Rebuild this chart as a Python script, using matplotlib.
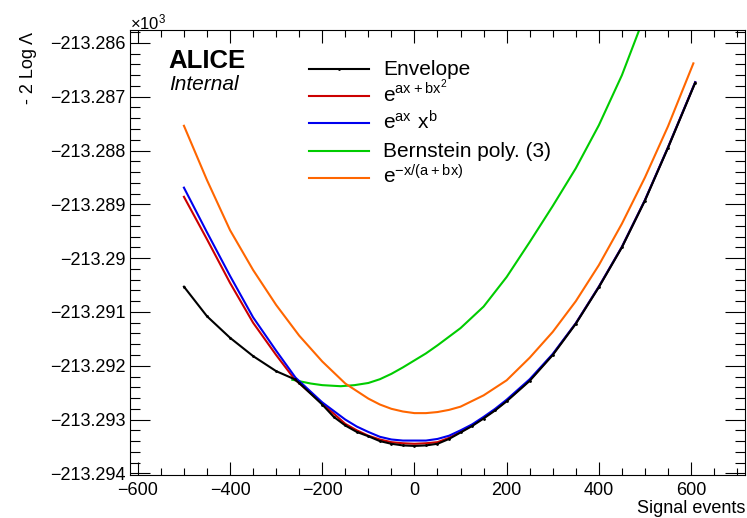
import numpy as np
import matplotlib.pyplot as plt
from matplotlib.ticker import MultipleLocator, FuncFormatter

plt.rcParams['font.family'] = ['Liberation Sans', 'DejaVu Sans']
plt.rcParams['mathtext.fontset'] = 'custom'
plt.rcParams['mathtext.rm'] = 'Liberation Sans'
plt.rcParams['mathtext.default'] = 'regular'

# -2 log Lambda, in units of 10^3
env_x = [-500, -450, -400, -350, -300, -260, -250, -200, -175, -150, -125, -100,
         -75, -50, -25, 0, 25, 50, 75, 100, 125, 150, 175, 200, 250, 300, 350,
         400, 450, 500, 550, 609]
env_y = [-213.29053, -213.29108, -213.29148, -213.29182, -213.29210, -213.29225,
         -213.29232, -213.29272, -213.29295, -213.29311, -213.29323, -213.29331,
         -213.29340, -213.29345, -213.29348, -213.29349, -213.29348, -213.29345,
         -213.29336, -213.29324, -213.29312, -213.29298, -213.29283, -213.29266,
         -213.29228, -213.29180, -213.29122, -213.29054, -213.28980, -213.28893,
         -213.28795, -213.28674]

red_x = [-500, -450, -400, -350, -300, -260, -200, -150, -125, -100, -75, -50,
         -25, 0, 25, 50, 75, 100, 125, 150, 175, 200, 250, 300, 350, 400, 450,
         500, 550, 609]
red_y = [-213.28886, -213.28965, -213.29046, -213.29120, -213.29180, -213.29225,
         -213.29270, -213.29308, -213.29320, -213.29330, -213.29337, -213.29342,
         -213.29344, -213.29345, -213.29344, -213.29342, -213.29334, -213.29323,
         -213.29311, -213.29297, -213.29282, -213.29265, -213.29227, -213.29179,
         -213.29121, -213.29053, -213.28979, -213.28892, -213.28794, -213.28673]

blue_x = [-500, -450, -400, -350, -300, -258, -200, -150, -125, -100, -75, -50,
          -25, 0, 25, 50, 75, 100, 125, 150, 175, 200, 250, 300, 350, 400, 450,
          500, 550, 609]
blue_y = [-213.28869, -213.28952, -213.29033, -213.29110, -213.29172, -213.29222,
          -213.29268, -213.29300, -213.29313, -213.29323, -213.29332, -213.29337,
          -213.29339, -213.29339, -213.29339, -213.29336, -213.29330, -213.29320,
          -213.29309, -213.29295, -213.29280, -213.29263, -213.29225, -213.29178,
          -213.29121, -213.29053, -213.28979, -213.28892, -213.28794, -213.28673]

green_x = [-265, -225, -200, -160, -130, -100, -75, -50, -25, 0, 25, 50, 100,
           150, 200, 250, 300, 350, 400, 450, 500]
green_y = [-213.29226, -213.29233, -213.29236, -213.29238, -213.29236, -213.29232,
           -213.29225, -213.29215, -213.29203, -213.29190, -213.29177, -213.29162,
           -213.29130, -213.29090, -213.29035, -213.28970, -213.28903, -213.28833,
           -213.28753, -213.28660, -213.28548]

orange_x = [-500, -450, -400, -350, -300, -250, -200, -150, -100, -75, -50, -25,
            0, 25, 50, 75, 100, 150, 200, 250, 300, 350, 400, 450, 500, 550, 605]
orange_y = [-213.28754, -213.28855, -213.28948, -213.29022, -213.29087, -213.29144,
            -213.29192, -213.29233, -213.29261, -213.29272, -213.29280, -213.29285,
            -213.29288, -213.29288, -213.29286, -213.29282, -213.29276, -213.29255,
            -213.29227, -213.29185, -213.29137, -213.29080, -213.29013, -213.28936,
            -213.28850, -213.28755, -213.28638]

labels = ['Envelope', r'$e^{ax+bx^{2}}$', r'$e^{ax}\ x^{b}$',
          'Bernstein poly. (3)', r'$e^{-x/(a+bx)}$']
colors = ['black', '#cc0000', '#0000ee', '#00cc00', '#ff6600']

W, H = 747, 518
fig = plt.figure(figsize=(W / 100, H / 100), dpi=100)
ax = fig.add_axes([130 / W, 1 - 475 / H, 615 / W, 445 / H])

lw = 1.5
ax.plot(green_x, green_y, color=colors[3], lw=lw)
ax.plot(orange_x, orange_y, color=colors[4], lw=lw)
ax.plot(red_x, red_y, color=colors[1], lw=lw)
ax.plot(blue_x, blue_y, color=colors[2], lw=lw)
ax.plot(env_x, env_y, color=colors[0], lw=lw, marker='.', ms=2)

ax.set_xlim(-617, 717)
ax.set_ylim(-213.29403, -213.28576)

ax.xaxis.set_major_locator(MultipleLocator(200))
ax.xaxis.set_minor_locator(MultipleLocator(50))
ax.yaxis.set_major_locator(MultipleLocator(0.001))
ax.yaxis.set_minor_locator(MultipleLocator(0.0002))
ax.yaxis.set_major_formatter(FuncFormatter(
    lambda v, p: ('%.3f' % v).rstrip('0').replace('-', '\u2212')))
ax.xaxis.set_major_formatter(FuncFormatter(
    lambda v, p: ('%d' % round(v)).replace('-', '\u2212')))

ax.tick_params(axis='both', which='both', direction='in', top=True, right=True,
               labelsize=13, width=0.8)
ax.tick_params(axis='x', which='major', length=9.4, pad=5)
ax.tick_params(axis='x', which='minor', length=5)
ax.tick_params(axis='y', which='major', length=14.4, pad=3)
ax.tick_params(axis='y', which='minor', length=7.2)
for s in ax.spines.values():
    s.set_linewidth(0.8)

def fx(px):
    return px / W

def fy(py):
    return 1 - py / H

fig.text(fx(130), fy(29), '\u00d710$^{3}$', fontsize=12, ha='left', va='baseline')
fig.text(fx(37), fy(32), '- 2 Log \u039b', fontsize=13, rotation=90,
         ha='right', va='top')
fig.text(fx(745), fy(513), 'Signal events', fontsize=13, ha='right', va='baseline')

fig.text(fx(168), fy(68), 'ALICE', fontsize=18.5, fontweight='bold',
         ha='left', va='baseline')
fig.text(fx(169), fy(90), 'Internal', fontsize=15, fontstyle='italic',
         ha='left', va='baseline')

# legend
rows = [69, 96, 123, 151, 178]
for i, (lab, c) in enumerate(zip(labels, colors)):
    y = rows[i]
    fig.add_artist(plt.Line2D([fx(309), fx(369)], [fy(y), fy(y)], color=c, lw=lw,
                              transform=fig.transFigure))
    if i == 0:
        fig.add_artist(plt.Line2D([fx(339)], [fy(y)], color=c, marker='.', ms=2,
                                  transform=fig.transFigure))
    fig.text(fx(383), fy(y + 6), lab, fontsize=15, ha='left', va='baseline')

fig.savefig('out.png', dpi=100)
